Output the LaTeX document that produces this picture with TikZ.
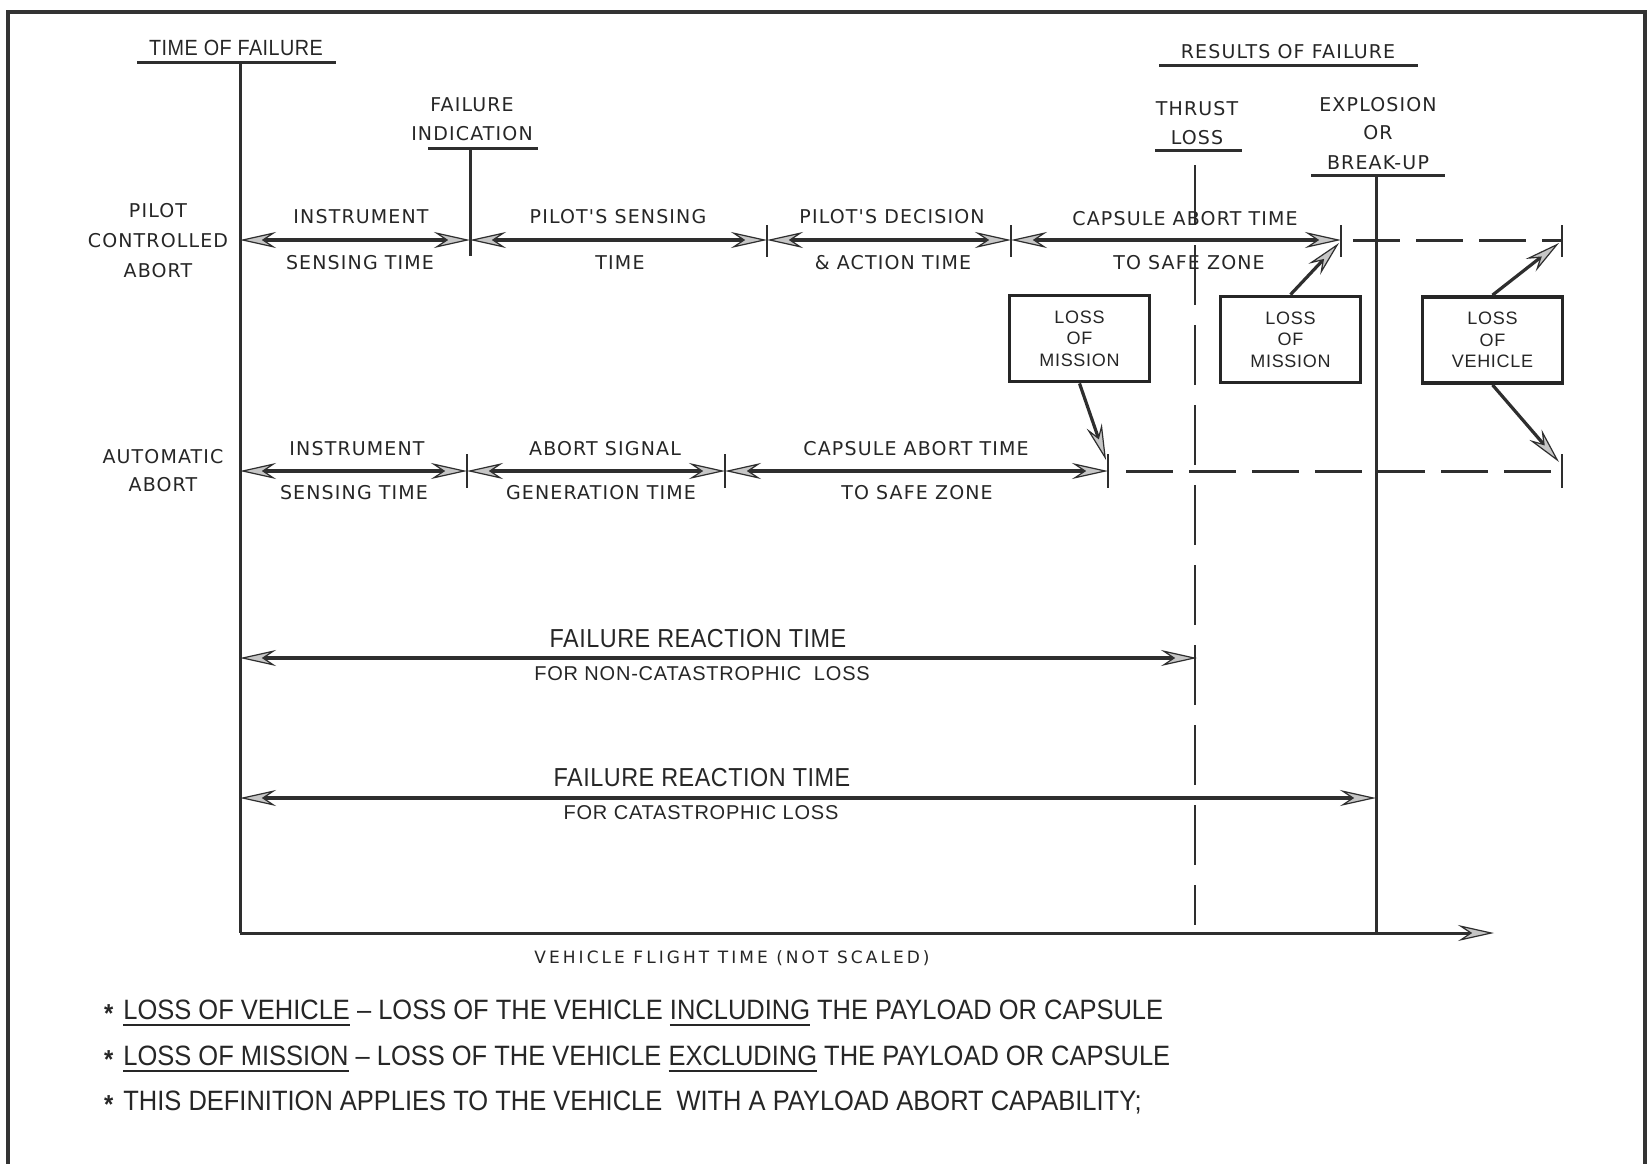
\documentclass[tikz,border=0pt]{standalone}
\usepackage{fontspec}
\usetikzlibrary{arrows.meta,calc}
\setmainfont{Liberation Sans}
\newfontfamily\widefont[LetterSpace=6]{DejaVu Sans}
\newfontfamily\widerfont[LetterSpace=18]{DejaVu Sans}
\newfontfamily\narfont[FakeStretch=0.9,LetterSpace=2]{Liberation Sans}
\newfontfamily\subfont[LetterSpace=4]{Liberation Sans}
\newfontfamily\fnfont[FakeStretch=0.91]{Liberation Sans}
\newcommand{\myul}[1]{\setbox0\hbox{#1}\rlap{\rule[-7pt]{\wd0}{2.4pt}}\box0\relax}
\newcommand{\fstar}{\raisebox{-3pt}{\fontsize{26}{26}\selectfont\bfseries *}}
\begin{document}
\begin{tikzpicture}[x=1pt,y=-1pt,
  >={Stealth[length=36pt,width=16pt,inset=12pt,fill=gray!45,line width=1.2pt]},
  ln/.style={line width=3pt,draw=black!82},
  arr/.style={line width=3.2pt,draw=black!82},
  tk/.style={line width=2.8pt,draw=black!82},
  dsh/.style={line width=3pt,draw=black!82,dash pattern=on 47pt off 16pt},
  vdsh/.style={line width=2.8pt,draw=black!82,dash pattern=on 60pt off 20pt},
  wl/.style={font=\widefont\fontsize{19}{22}\selectfont,text=black!85,inner sep=0pt},
  nl/.style={font=\narfont\fontsize{26}{28}\selectfont,text=black!85,inner sep=0pt},
  sl/.style={font=\subfont\fontsize{20}{22}\selectfont,text=black!85,inner sep=0pt},
  fn/.style={font=\fnfont\fontsize{28}{30}\selectfont,text=black!85,inner sep=0pt,anchor=west},
  box/.style={draw=black!85,line width=3.8pt,minimum width=140pt,minimum height=86pt,align=center,font=\subfont\fontsize{18}{21.5}\selectfont,text=black!85,inner sep=0pt},
]
\fill[white] (0,0) rectangle (1647,1164);
\useasboundingbox (0,0) rectangle (1647,1164);
% frame
\draw[line width=3.2pt,black!80] (8,1164) -- (8,12) -- (1645,12) -- (1645,1164);

% time of failure
\node[nl,font=\narfont\fontsize{22}{24}\selectfont] (tof) at (236,48) {TIME OF FAILURE};
\coordinate (tofL) at (137,63); \coordinate (tofR) at (336,63);
\coordinate (t0) at (240,63); \coordinate (o) at (240,933); \coordinate (axE) at (1494,933);
\draw[ln] (tofL) -- (tofR);
\draw[ln] (t0) -- (o);
\draw[ln,->] (o) -- (axE);
\node[wl,font=\widerfont\fontsize{17}{19}\selectfont] (vft) at (732,958) {VEHICLE FLIGHT TIME (NOT SCALED)};

% failure indication
\node[wl] (fi1) at (472,105) {FAILURE};
\node[wl] (fi2) at (472,134) {INDICATION};
\coordinate (fiL) at (428,148); \coordinate (fiR) at (538,148); \coordinate (fiT) at (470,148);
\coordinate (p1b) at (470,256);
\draw[ln] (fiL) -- (fiR);
\draw[ln] (fiT) -- (p1b);

% results of failure
\node[wl] (rof) at (1288,52) {RESULTS OF FAILURE};
\coordinate (rofL) at (1159,66); \coordinate (rofR) at (1418,66);
\draw[ln] (rofL) -- (rofR);
\node[wl] (th1) at (1197,109) {THRUST};
\node[wl] (th2) at (1197,138) {LOSS};
\coordinate (thL) at (1155,150); \coordinate (thR) at (1242,150);
\coordinate (thT) at (1195,165); \coordinate (thB) at (1195,925);
\draw[ln] (thL) -- (thR);
\draw[vdsh] (thT) -- (thB);
\node[wl] (ex1) at (1378,105) {EXPLOSION};
\node[wl] (ex2) at (1378,133) {OR};
\node[wl] (ex3) at (1378,163) {BREAK-UP};
\coordinate (exL) at (1311,175); \coordinate (exR) at (1445,175);
\coordinate (exT) at (1376,175); \coordinate (exB) at (1376,933);
\draw[ln] (exL) -- (exR);
\draw[ln] (exT) -- (exB);

% pilot controlled abort row
\node[wl] (pc1) at (158,211) {PILOT};
\node[wl] (pc2) at (158,241) {CONTROLLED};
\node[wl] (pc3) at (158,271) {ABORT};
\coordinate (p0) at (240,240); \coordinate (p1) at (470,240);
\coordinate (p2) at (767,240); \coordinate (p3) at (1011,240);
\coordinate (p4) at (1341,240); \coordinate (p5) at (1562,240);
\draw[arr,<->] (p0) -- (p1);
\draw[arr,<->] (p1) -- (p2);
\draw[arr,<->] (p2) -- (p3);
\draw[arr,<->] (p3) -- (p4);
\draw[dsh] ($(p4)+(12,0)$) -- (p5);
\foreach \c in {p2,p3,p4,p5}{\draw[tk] ($(\c)+(0,-15)$) -- ($(\c)+(0,17)$);}
\node[wl] (pl1) at (361,217) {INSTRUMENT};
\node[wl] (pl2) at (360,263) {SENSING TIME};
\node[wl] (pl3) at (618,217) {PILOT'S SENSING};
\node[wl] (pl4) at (620,263) {TIME};
\node[wl] (pl5) at (892,217) {PILOT'S DECISION};
\node[wl] (pl6) at (893,263) {\& ACTION TIME};
\node[wl] (pl7) at (1185,219) {CAPSULE ABORT TIME};
\node[wl] (pl8) at (1189,263) {TO SAFE ZONE};

% automatic abort row
\node[wl] (aa1) at (163,457) {AUTOMATIC};
\node[wl] (aa2) at (163,485) {ABORT};
\coordinate (a0) at (240,471); \coordinate (a1) at (467,471);
\coordinate (a2) at (725,471); \coordinate (a3) at (1108,471);
\coordinate (a4) at (1562,471);
\draw[arr,<->] (a0) -- (a1);
\draw[arr,<->] (a1) -- (a2);
\draw[arr,<->] (a2) -- (a3);
\draw[dsh] ($(a3)+(18,0)$) -- (a4);
\foreach \c in {a1,a2,a3,a4}{\draw[tk] ($(\c)+(0,-17)$) -- ($(\c)+(0,17)$);}
\node[wl] (al1) at (357,449) {INSTRUMENT};
\node[wl] (al2) at (354,493) {SENSING TIME};
\node[wl] (al3) at (605,449) {ABORT SIGNAL};
\node[wl] (al4) at (601,493) {GENERATION TIME};
\node[wl] (al5) at (916,449) {CAPSULE ABORT TIME};
\node[wl] (al6) at (917,493) {TO SAFE ZONE};

% result boxes
\node[box] (b1) at (1079.5,338.5) {LOSS\\OF\\MISSION};
\node[box] (b2) at (1290.5,339.5) {LOSS\\OF\\MISSION};
\node[box] (b3) at (1492.5,340) {LOSS\\OF\\VEHICLE};
\coordinate (b1e) at (1106,460);
\coordinate (b2e) at (1339,243);
\coordinate (b3e) at (1559,243);
\coordinate (b3f) at (1559,462);
\draw[arr,->] (b1.south) -- (b1e);
\draw[arr,->] (b2.north) -- (b2e);
\draw[arr,->] (b3.north) -- (b3e);
\draw[arr,->] (b3.south) -- (b3f);

% failure reaction times
\coordinate (r0) at (240,658); \coordinate (r1) at (1197,658);
\coordinate (c0) at (240,798); \coordinate (c1) at (1376,798);
\draw[arr,<->] (r0) -- (r1);
\draw[arr,<->] (c0) -- (c1);
\node[nl] (fr1) at (698,639) {FAILURE REACTION TIME};
\node[sl] (fr2) at (702,674) {FOR NON-CATASTROPHIC\ \ LOSS};
\node[nl] (fc1) at (702,778) {FAILURE REACTION TIME};
\node[sl] (fc2) at (701,813) {FOR CATASTROPHIC LOSS};

% footnotes
\node[fn] (fn1) at (104,1013) {\fstar\hspace{10pt}\myul{LOSS OF VEHICLE} – LOSS OF THE VEHICLE \myul{INCLUDING} THE PAYLOAD OR CAPSULE};
\node[fn] (fn2) at (104,1059) {\fstar\hspace{10pt}\myul{LOSS OF MISSION} – LOSS OF THE VEHICLE \myul{EXCLUDING} THE PAYLOAD OR CAPSULE};
\node[fn] (fn3) at (104,1103) {\fstar\hspace{10pt}THIS DEFINITION APPLIES TO THE VEHICLE\ \ WITH A PAYLOAD ABORT CAPABILITY;};
\end{tikzpicture}
\end{document}
